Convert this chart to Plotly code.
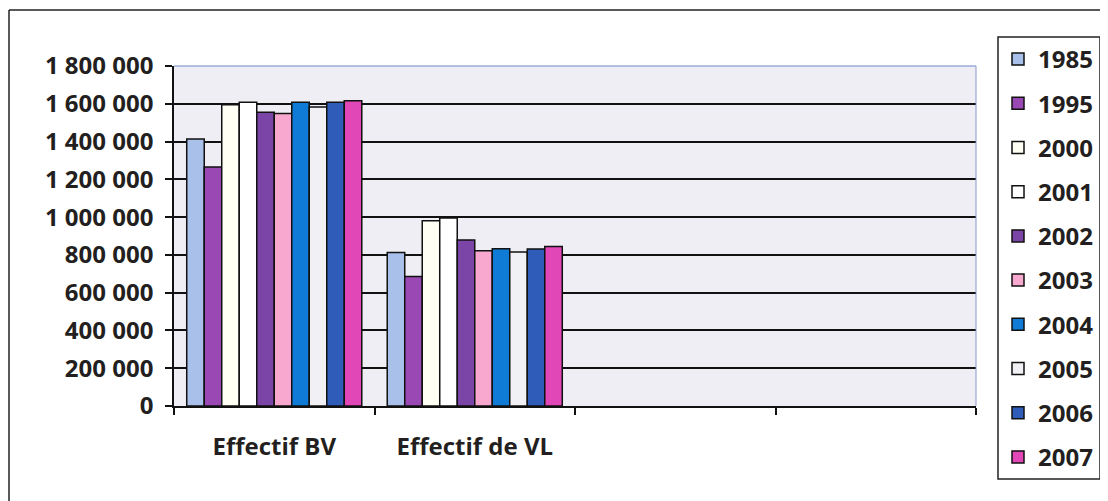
import plotly.graph_objects as go

categories = ["Effectif BV", "Effectif de VL", " ", "  "]
years = ["1985", "1995", "2000", "2001", "2002", "2003", "2004", "2005", "2006", "2007"]
effectif_bv = [1413000, 1265000, 1595000, 1608000, 1555000, 1548000, 1608000, 1583000, 1608000, 1616000]
effectif_vl = [813000, 686000, 981000, 995000, 879000, 822000, 833000, 815000, 831000, 845000]
colors = ["#a9c0ea", "#9a48b4", "#fffff4", "#ffffff", "#7a45a6",
          "#f8a8cf", "#0f7bd6", "#f1f1f5", "#2f5cb8", "#e247b8"]
y_ticks = [0, 200000, 400000, 600000, 800000, 1000000, 1200000, 1400000, 1600000, 1800000]

font_main = dict(family="Open Sans", size=24, color="#231f20", weight="bold")

fig = go.Figure()
for i, yr in enumerate(years):
    fig.add_trace(go.Bar(
        x=categories[:2],
        y=[effectif_bv[i], effectif_vl[i]],
        name=yr,
        legendgroup=yr,
        marker=dict(color=colors[i], line=dict(color="#111111", width=1.5)),
    ))

# page has an 8px body margin, so the figure is 8px smaller and offsets shift
W, H = 1100, 493
ml, mr, mt, mb = 166, 132, 58, 95
pw, ph = W - ml - mr, H - mt - mb

def px_x(x):
    return (x - ml) / pw

def px_y(y):
    return (H - mb - y) / ph

# plot area edge lines (top blue line, right edge), outer frame, legend box
shapes = [
    dict(type="line", xref="paper", yref="paper", x0=0, x1=1, y0=1, y1=1,
         line=dict(color="#6f86c6", width=1.2), layer="above"),
    dict(type="line", xref="paper", yref="paper", x0=1, x1=1, y0=0, y1=1,
         line=dict(color="#8a98c8", width=1), layer="above"),
    dict(type="line", xref="paper", yref="paper", x0=px_x(1), x1=px_x(1200), y0=px_y(2), y1=px_y(2),
         line=dict(color="#222222", width=1.5)),
    dict(type="line", xref="paper", yref="paper", x0=px_x(1), x1=px_x(1), y0=px_y(600), y1=px_y(2),
         line=dict(color="#222222", width=1.5)),
    dict(type="rect", xref="paper", yref="paper", x0=px_x(990), x1=px_x(1092),
         y0=px_y(471), y1=px_y(29), line=dict(color="#222222", width=1.5)),
]

fig.update_layout(
    width=W, height=H,
    margin=dict(l=ml, r=mr, t=mt, b=mb, autoexpand=False),
    paper_bgcolor="white",
    plot_bgcolor="#efeef4",
    barmode="group",
    bargap=0.127,
    bargroupgap=0,
    separators=", ",
    font=font_main,
    showlegend=True,
    legend=dict(
        x=px_x(990), xanchor="left", y=px_y(29), yanchor="top",
        borderwidth=0, bgcolor="rgba(0,0,0,0)",
        font=font_main, tracegroupgap=10, maxheight=490,
        traceorder="grouped",
    ),
    xaxis=dict(
        type="category", categoryorder="array", categoryarray=categories,
        range=[-0.5, 3.5], tickson="boundaries",
        ticks="outside", ticklen=7, tickwidth=1.5, tickcolor="#111111",
        showline=True, linecolor="#111111", linewidth=2,
        showgrid=False, ticklabelstandoff=18,
        tickfont=font_main,
    ),
    yaxis=dict(
        range=[0, 1800000], tickvals=y_ticks, tickformat=",d",
        ticks="outside", ticklen=7, tickwidth=1.5, tickcolor="#111111",
        showline=True, linecolor="#111111", linewidth=1.5,
        showgrid=True, gridcolor="#111111", gridwidth=1.6,
        zeroline=False, tickfont=font_main, ticklabelstandoff=7,
    ),
    shapes=shapes,
)

fig.write_html("out.html")
